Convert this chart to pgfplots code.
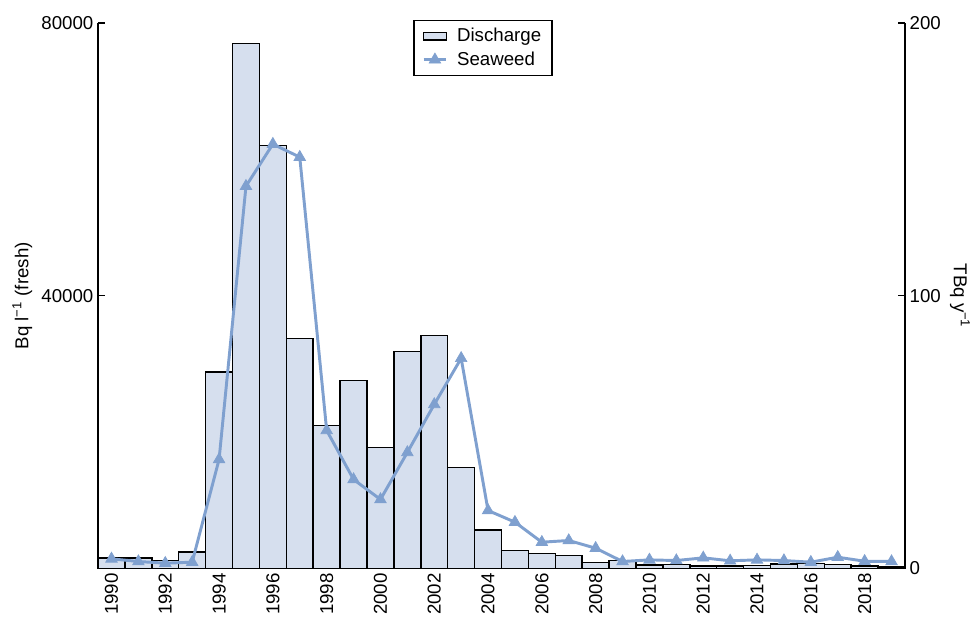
\documentclass[border=0pt]{standalone}
\usepackage{fontspec}
\setmainfont{Liberation Sans}
\usepackage{pgfplots}
\pgfplotsset{compat=1.18}
\definecolor{barfill}{RGB}{214,223,238}
\definecolor{seaweed}{RGB}{127,160,207}
\begin{document}
\begin{tikzpicture}[font=\fontsize{14}{17}\selectfont]
\pgfplotsset{
  common/.style={
    scale only axis, width=605pt, height=409pt,
    xmin=1989.5, xmax=2019.5, ymin=0,
    tick align=inside,
    /pgf/number format/assume math mode=true,
    /pgf/number format/1000 sep={},
    scaled y ticks=false,
    axis line style={line width=1pt},
    major tick length=5pt,
    every tick/.style={black, line width=1pt},
  }
}
% discharge, right axis
\begin{axis}[common,
    axis y line*=right, axis x line*=bottom,
    ymax=200, ytick={0,100,200},
    xtick={1990,1992,...,2018},
    x tick label style={rotate=90, anchor=east},
    xtick style={draw=none},
    ylabel={TBq y\textsuperscript{−1}},
    ylabel style={rotate=180},
]
\addplot[ybar, bar width=1, fill=barfill, draw=black, line width=1.1pt] coordinates {
(1990,3.8)(1991,3.9)(1992,2.9)(1993,6.0)(1994,72)(1995,192.5)(1996,155)(1997,84.4)
(1998,52.5)(1999,69)(2000,44.4)(2001,79.6)(2002,85.5)(2003,37)(2004,14.2)(2005,6.6)
(2006,5.6)(2007,4.8)(2008,2.3)(2009,2.9)(2010,1.3)(2011,1.5)(2012,0.85)(2013,1.0)
(2014,1.1)(2015,1.7)(2016,1.9)(2017,1.5)(2018,1.0)(2019,0.6)
};
\end{axis}
% seaweed, left axis
\begin{axis}[common,
    axis y line*=left, axis x line=none,
    ymax=80000, ytick={40000,80000},
    ylabel={Bq l\textsuperscript{−1} (fresh)},
    legend style={at={(0.477,1.006)}, anchor=north, draw=black, line width=1pt,
      font=\fontsize{14}{17}\selectfont, row sep=2pt, inner xsep=6pt, inner ysep=4pt,
      /tikz/every odd column/.append style={column sep=5pt}},
    legend cell align=left,
]
\addlegendimage{area legend, fill=barfill, draw=black, line width=1.1pt}
\addlegendentry{Discharge}
\addplot[seaweed, line width=2.2pt, mark=triangle*, mark size=5pt,
    mark options={line width=0.5pt}] coordinates {
(1990,1420)(1991,1030)(1992,780)(1993,930)(1994,16000)(1995,56070)(1996,62240)(1997,60330)
(1998,20260)(1999,13060)(2000,10130)(2001,17030)(2002,24070)(2003,30830)(2004,8510)(2005,6800)
(2006,3860)(2007,4110)(2008,2980)(2009,1030)(2010,1270)(2011,1170)(2012,1570)(2013,1130)
(2014,1270)(2015,1170)(2016,930)(2017,1660)(2018,1070)(2019,1030)
};
\addlegendentry{Seaweed}
\end{axis}
\pgfresetboundingbox
\path[use as bounding box] ([xshift=-73.5pt,yshift=-36pt]current axis.south west)
  rectangle ([xshift=49.5pt,yshift=17.25pt]current axis.north east);
\end{tikzpicture}
\end{document}
